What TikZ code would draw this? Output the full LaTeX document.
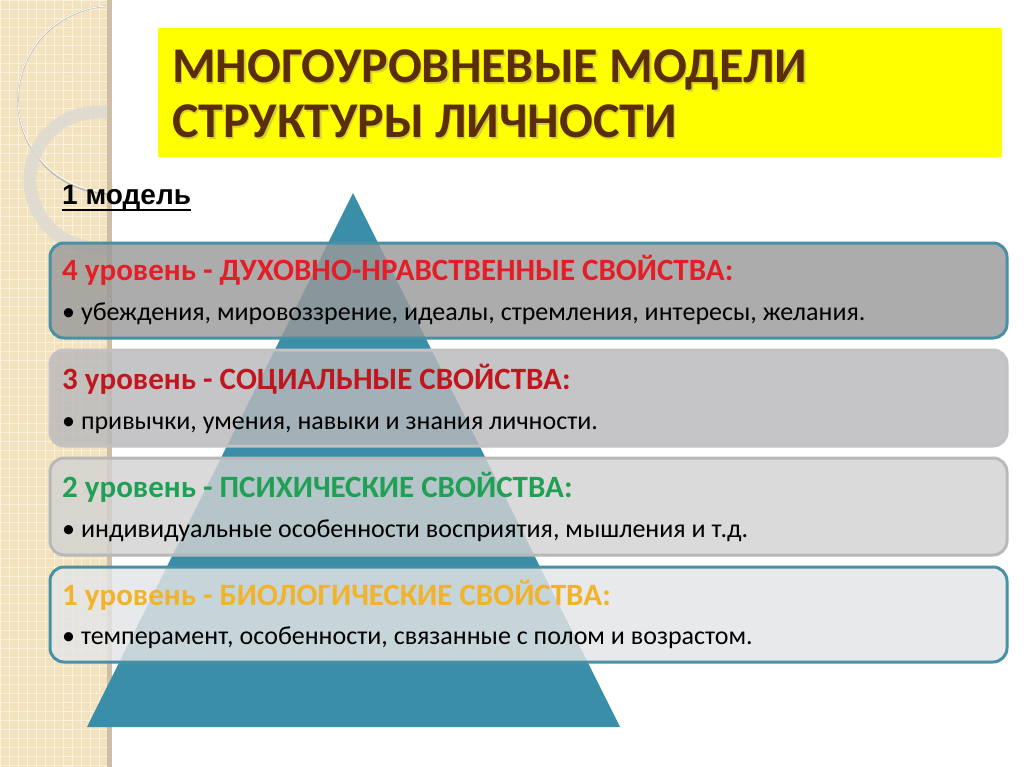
\documentclass[tikz,border=0pt]{standalone}
\usepackage{fontspec}
\setmainfont{Carlito}
\newfontfamily\modelfont{Liberation Sans}
\usetikzlibrary{calc}
\definecolor{strip}{HTML}{F2E3BE}
\definecolor{stripline}{HTML}{FAF2DE}
\definecolor{stripedge}{HTML}{CDBFA3}
\definecolor{teal}{HTML}{3A8EA8}
\definecolor{tealborder}{HTML}{4A90A4}
\definecolor{titlebrown}{HTML}{5C2D0B}
\definecolor{titleyellow}{HTML}{FFFF00}
\definecolor{redA}{HTML}{E41E26}
\definecolor{redB}{HTML}{C0161D}
\definecolor{greenC}{HTML}{1FA055}
\definecolor{orangeD}{HTML}{F2B32A}
\definecolor{fillA}{HTML}{9A9A9A}
\definecolor{fillB}{HTML}{B9B9BB}
\definecolor{fillC}{HTML}{D2D2D2}
\definecolor{fillD}{HTML}{E4E5E6}
\definecolor{greyborderB}{HTML}{C2C2C2}
\definecolor{greyborderC}{HTML}{B8B8B8}
\definecolor{ringgrey}{HTML}{DEDAD2}
\tikzset{
  levelbox/.style={rounded corners=14pt, line width=3pt, fill opacity=0.82},
  headtext/.style={anchor=base west, inner sep=0pt, font=\fontsize{31}{36}\selectfont\bfseries},
  bodytext/.style={anchor=base west, inner sep=0pt, font=\fontsize{26}{30}\selectfont, text=black},
  titletext/.style={anchor=base west, inner sep=0pt, font=\fontsize{50}{56}\selectfont\bfseries},
}
\begin{document}
\begin{tikzpicture}[x=1pt,y=-1pt]
\useasboundingbox (0,0) rectangle (1024,767);
\fill[white] (0,0) rectangle (1024,767);
% left decorative strip
\begin{scope}
\clip (0,0) rectangle (110,767);
\fill[strip] (0,0) rectangle (110,767);
\foreach \i in {0,9,...,110} { \draw[stripline, line width=0.8pt] (\i,0) -- (\i,767); }
\foreach \j in {0,9,...,767} { \draw[stripline, line width=0.8pt] (0,\j) -- (110,\j); }
\draw[gray!55, line width=1.6pt] (112,100) circle[radius=94];
\draw[white, line width=0.8pt] (111,99) circle[radius=93];
\draw[ringgrey, opacity=0.85, line width=13pt] (98,180) circle[radius=68];
\end{scope}
\fill[stripedge] (107,0) rectangle (112,767);
% title
\fill[titleyellow] (158,28) rectangle (1002,157);
\node[titletext, text=black!50, opacity=0.35] at (173.5,84.5) {МНОГОУРОВНЕВЫЕ МОДЕЛИ};
\node[titletext, text=black!50, opacity=0.35] at (173.5,139.5) {СТРУКТУРЫ ЛИЧНОСТИ};
\node[titletext, text=titlebrown] (t1) at (172,83) {МНОГОУРОВНЕВЫЕ МОДЕЛИ};
\node[titletext, text=titlebrown] (t2) at (172,138) {СТРУКТУРЫ ЛИЧНОСТИ};
% model label
\node[anchor=base west, inner sep=0pt, font=\modelfont\bfseries\fontsize{28}{32}\selectfont] (m) at (62,205) {1 модель};
\draw[line width=2.6pt] ([yshift=-5pt]m.base west) -- ([yshift=-5pt]m.base east);
% pyramid
\fill[teal] (353,193) -- (620,727) -- (87,727) -- cycle;
% boxes
\draw[levelbox, draw=tealborder, fill=fillA] (50,243) rectangle (1007,338);
\draw[levelbox, draw=greyborderB, fill=fillB] (50,350) rectangle (1007,446);
\draw[levelbox, draw=greyborderC, fill=fillC] (50,458) rectangle (1007,555);
\draw[levelbox, draw=tealborder, fill=fillD] (50,567) rectangle (1007,662);
% texts
\node[headtext, text=redA] (h4) at (62,280) {4 уровень - ДУХОВНО-НРАВСТВЕННЫЕ СВОЙСТВА:};
\node[bodytext] (b4) at (62,320) {• убеждения, мировоззрение, идеалы, стремления, интересы, желания.};
\node[headtext, text=redB] (h3) at (62,389) {3 уровень - СОЦИАЛЬНЫЕ СВОЙСТВА:};
\node[bodytext] (b3) at (62,429) {• привычки, умения, навыки и знания личности.};
\node[headtext, text=greenC] (h2) at (62,497) {2 уровень - ПСИХИЧЕСКИЕ СВОЙСТВА:};
\node[bodytext] (b2) at (62,537) {• индивидуальные особенности восприятия, мышления и т.д.};
\node[headtext, text=orangeD] (h1) at (62,605) {1 уровень - БИОЛОГИЧЕСКИЕ СВОЙСТВА:};
\node[bodytext] (b1) at (62,644) {• темперамент, особенности, связанные с полом и возрастом.};
\end{tikzpicture}
\end{document}
